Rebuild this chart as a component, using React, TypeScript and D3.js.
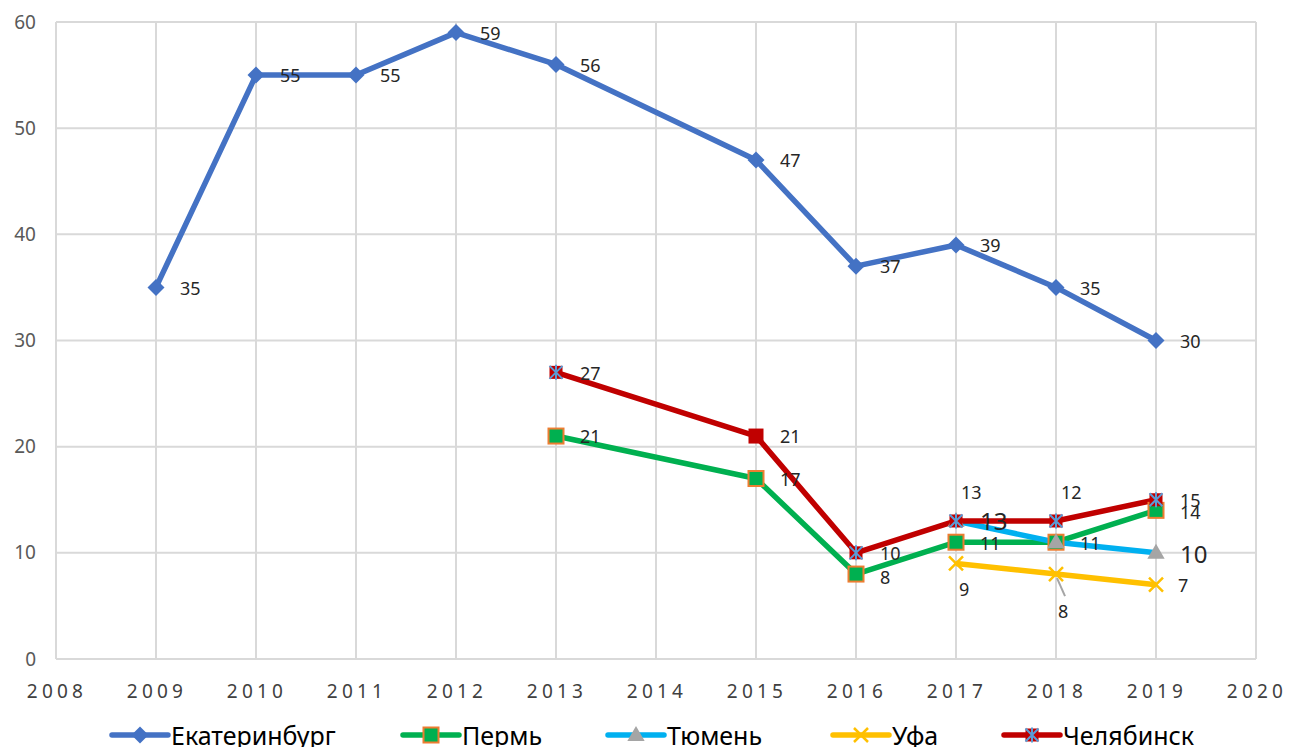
import * as d3 from 'd3';

const years = ['2008', '2009', '2010', '2011', '2012', '2013', '2014', '2015', '2016', '2017', '2018', '2019', '2020'];
const yTicks = [0, 10, 20, 30, 40, 50, 60];

// null = no value for that year (Excel skips it and joins the neighbours)
const ekaterinburg = [null, 35, 55, 55, 59, 56, null, 47, 37, 39, 35, 30, null];
const perm = [null, null, null, null, null, 21, null, 17, 8, 11, 11, 14, null];
const tyumen = [null, null, null, null, null, null, null, null, null, 13, 11, 10, null];
const ufa = [null, null, null, null, null, null, null, null, null, 9, 8, 7, null];
const chelyabinsk = [null, null, null, null, null, 27, null, 21, 10, 13, 13, 15, null];
// the chart's own label for Челябинск 2018 reads 12 although the point sits at 13
const chelyabinskLabels = [null, null, null, null, null, 27, null, 21, 10, 13, 12, 15, null];

const seriesNames = ['Екатеринбург', 'Пермь', 'Тюмень', 'Уфа', 'Челябинск'];

type Marker = 'diamond' | 'square' | 'triangle' | 'cross' | 'star' | 'redsquare';
type Lbl = { dx: number; dy: number; size?: number } | null;

const R = { dx: 24, dy: 1 };

// data label placement per point (same order as the year list)
const labelLayout: Record<string, Lbl[]> = {
  'Екатеринбург': years.map(() => R),
  'Пермь': years.map((y) => (y === '2016' ? { dx: 24, dy: 4 } : y === '2019' ? { dx: 24, dy: 2 } : R)),
  'Тюмень': years.map((y) => (y === '2017' ? { dx: 24, dy: 1, size: 24 } : y === '2019' ? { dx: 24, dy: 2, size: 24 } : null)),
  'Уфа': years.map((y) => (y === '2017' ? { dx: 3, dy: 26 } : y === '2018' ? { dx: 2, dy: 38 } : { dx: 22, dy: 1 })),
  'Челябинск': years.map((y) => (y === '2017' || y === '2018' ? { dx: 5, dy: -28 } : R)),
};

const series = [
  { name: seriesNames[0], values: ekaterinburg, labels: ekaterinburg, color: '#4472C4', marker: 'diamond' as Marker },
  { name: seriesNames[1], values: perm, labels: perm, color: '#00B050', marker: 'square' as Marker },
  { name: seriesNames[2], values: tyumen, labels: tyumen, color: '#00B0F0', marker: 'triangle' as Marker },
  { name: seriesNames[3], values: ufa, labels: ufa, color: '#FFC000', marker: 'cross' as Marker },
  { name: seriesNames[4], values: chelyabinsk, labels: chelyabinskLabels, color: '#C00000', marker: 'star' as Marker },
];

const W = 1289;
const H = 747;
const font = "'Noto Sans', 'Open Sans', sans-serif";

function MarkerShape({ kind, x, y }: { kind: Marker; x: number; y: number }) {
  switch (kind) {
    case 'diamond':
      return <path d="M0,-8.5L8.5,0L0,8.5L-8.5,0Z" transform={`translate(${x},${y})`} fill="#4472C4" />;
    case 'square':
      return <rect x={x - 7.5} y={y - 7.5} width={15} height={15} fill="#00B050" stroke="#ED7D31" strokeWidth={2} />;
    case 'triangle':
      return <path d={d3.symbol(d3.symbolTriangle, 130)()!} transform={`translate(${x},${y + 1})`} fill="#A5A5A5" />;
    case 'cross':
      return (
        <path d="M-7,-7L7,7M7,-7L-7,7" transform={`translate(${x},${y})`} stroke="#FFC000" strokeWidth={2.5} fill="none" />
      );
    case 'redsquare':
      return <rect x={x - 7.5} y={y - 7.5} width={15} height={15} fill="#C00000" />;
    case 'star':
      return (
        <g transform={`translate(${x},${y})`}>
          <rect x={-6.5} y={-6.5} width={13} height={13} fill="#C00000" />
          <path d="M-6.5,-6.5L6.5,6.5M6.5,-6.5L-6.5,6.5M0,-7.5L0,7.5" stroke="#5B9BD5" strokeWidth={2} fill="none" />
        </g>
      );
  }
  return null;
}

export default function App() {
  const x = d3.scalePoint<string>().domain(years).range([56, 1256]);
  const y = d3.scaleLinear().domain([0, 60]).range([659, 22]);

  const line = d3
    .line<{ year: string; v: number }>()
    .x((d) => x(d.year)!)
    .y((d) => y(d.v));

  const pts = (vals: (number | null)[]) =>
    years.map((yr, i) => ({ year: yr, v: vals[i] })).filter((d) => d.v !== null) as { year: string; v: number }[];

  const legendX = [112, 403, 608, 833, 1004];

  return (
    <svg width={W} height={H} style={{ position: 'absolute', left: 0, top: 0, background: '#fff' }} fontFamily={font}>
      {/* grid */}
      {yTicks.map((t) => (
        <line key={'h' + t} x1={56} x2={1256} y1={y(t)} y2={y(t)} stroke="#D9D9D9" strokeWidth={2} />
      ))}
      {years.map((yr) => (
        <line key={'v' + yr} x1={x(yr)} x2={x(yr)} y1={y(60)} y2={y(0)} stroke="#D9D9D9" strokeWidth={2} />
      ))}
      {/* axis labels */}
      {yTicks.map((t) => (
        <text key={'yl' + t} x={36} y={y(t)} dy="0.35em" textAnchor="end" fontSize={19} fill="#595959">
          {t}
        </text>
      ))}
      {years.map((yr) => (
        <text key={'xl' + yr} x={x(yr)! + 1} y={698} textAnchor="middle" fontSize={19} fill="#404040" letterSpacing={4.2}>
          {yr}
        </text>
      ))}
      {/* lines */}
      {series.map((s) => (
        <path key={'l' + s.name} d={line(pts(s.values))!} fill="none" stroke={s.color} strokeWidth={5.5} strokeLinejoin="round" />
      ))}
      {/* markers */}
      {series.map((s) =>
        pts(s.values).map((d) => (
          <MarkerShape
            key={s.name + d.year}
            kind={s.name === 'Челябинск' && d.year === '2015' ? 'redsquare' : s.marker}
            x={x(d.year)!}
            y={y(d.v)}
          />
        ))
      )}
      {/* leader line for Уфа 2018 */}
      <line x1={x('2018')! + 1} y1={y(8) + 4} x2={x('2018')! + 9} y2={y(8) + 22} stroke="#A5A5A5" strokeWidth={2} />
      {/* data labels */}
      {series.map((s) =>
        years.map((yr, i) => {
          const v = s.values[i];
          const l = labelLayout[s.name][i];
          if (v === null || !l) return null;
          return (
            <text
              key={'t' + s.name + yr}
              x={x(yr)! + l.dx}
              y={y(v) + l.dy}
              dy="0.35em"
              fontSize={l.size ?? 18}
              fill="#262626"
            >
              {s.labels[i]}
            </text>
          );
        })
      )}
      {/* legend */}
      {series.map((s, i) => (
        <g key={'lg' + s.name}>
          <line x1={legendX[i]} x2={legendX[i] + 56} y1={735} y2={735} stroke={s.color} strokeWidth={5.5} strokeLinecap="round" />
          <MarkerShape kind={s.marker} x={legendX[i] + 28} y={735} />
          <text x={legendX[i] + 59} y={736} dy="0.35em" fontSize={25} fill="#000">
            {s.name}
          </text>
        </g>
      ))}
    </svg>
  );
}
